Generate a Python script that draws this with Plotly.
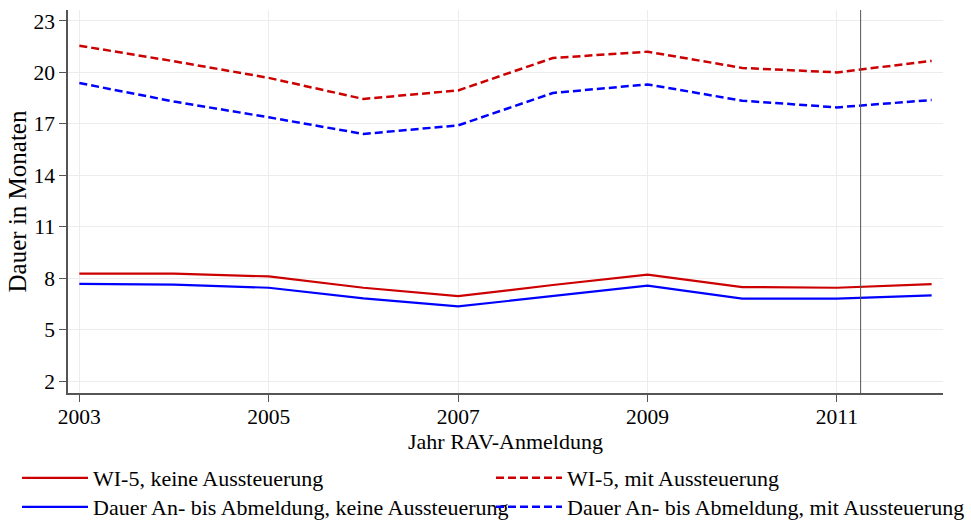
import plotly.graph_objects as go

years = list(range(2003, 2013))
wi5_keine = [8.26, 8.26, 8.10, 7.44, 6.95, 7.60, 8.20, 7.48, 7.44, 7.65]
wi5_mit = [21.56, 20.65, 19.68, 18.45, 18.95, 20.84, 21.21, 20.26, 20.00, 20.67]
dauer_keine = [7.67, 7.62, 7.44, 6.82, 6.35, 6.95, 7.56, 6.80, 6.80, 7.00]
dauer_mit = [19.38, 18.30, 17.38, 16.41, 16.91, 18.80, 19.30, 18.35, 17.96, 18.39]

names = ["WI-5, keine Aussteuerung", "WI-5, mit Aussteuerung",
         "Dauer An- bis Abmeldung, keine Aussteuerung", "Dauer An- bis Abmeldung, mit Aussteuerung"]
x_ticks = [2003, 2005, 2007, 2009, 2011]
y_ticks = [2, 5, 8, 11, 14, 17, 20, 23]
cutoff = 2011.25

RED = "#cc0000"
BLUE = "#0000ff"
FONT = "Liberation Serif"
TXT = "#000000"

W, H = 971, 525
ML, MR, MT, MB = 68, 28, 10, 132
PW, PH = W - ML - MR, H - MT - MB

fig = go.Figure()
series = [(wi5_keine, RED, None, "legend"), (wi5_mit, RED, "8px,4px", "legend2"),
          (dauer_keine, BLUE, None, "legend3"), (dauer_mit, BLUE, "8px,4px", "legend4")]
for (vals, col, dash, lg), nm in zip(series, names):
    fig.add_trace(go.Scatter(x=years, y=vals, mode="lines", name=nm, legend=lg, showlegend=True,
                             line=dict(color=col, width=2.5 if dash else 2.2, dash=dash or "solid")))

fig.add_vline(x=cutoff, line=dict(color="#555555", width=1))

def leg(px_x, px_y):
    return dict(orientation="h", xref="paper", yref="paper",
                x=(px_x - ML) / PW, y=(MT + PH - px_y) / PH,
                xanchor="left", yanchor="middle",
                font=dict(family=FONT, size=22, color=TXT),
                itemwidth=66, bgcolor="rgba(0,0,0,0)", borderwidth=0)

fig.update_layout(
    width=W, height=H, showlegend=True,
    margin=dict(l=ML, r=MR, t=MT, b=MB, autoexpand=False),
    paper_bgcolor="white", plot_bgcolor="white",
    font=dict(family=FONT, size=21, color=TXT),
    legend=leg(17, 478), legend2=leg(491, 478),
    legend3=leg(17, 507), legend4=leg(491, 507),
    xaxis=dict(range=[2002.88, 2012.12], tickvals=x_ticks, ticktext=[str(v) for v in x_ticks],
               showline=True, linecolor="#555555", linewidth=1.5,
               ticks="outside", ticklen=7, tickcolor="#555555", tickwidth=1.2,
               showgrid=True, gridcolor="#ececec", gridwidth=1, zeroline=False,
               ticklabelstandoff=-4,
               tickfont=dict(family=FONT, size=21.5, color=TXT),
               title=dict(text="Jahr RAV-Anmeldung", standoff=0,
                          font=dict(family=FONT, size=22, color=TXT))),
    yaxis=dict(range=[1.3, 23.64], tickvals=y_ticks,
               showline=True, linecolor="#555555", linewidth=1.5,
               ticks="outside", ticklen=7, tickcolor="#555555", tickwidth=1.2,
               showgrid=True, gridcolor="#ececec", gridwidth=1, zeroline=False,
               tickfont=dict(family=FONT, size=21.5, color=TXT),
               title=dict(text="Dauer in Monaten", standoff=0,
                          font=dict(family=FONT, size=25, color=TXT))),
)

fig.write_html("out.html", config={"displayModeBar": False},
               post_script="document.body.style.margin='0';")
